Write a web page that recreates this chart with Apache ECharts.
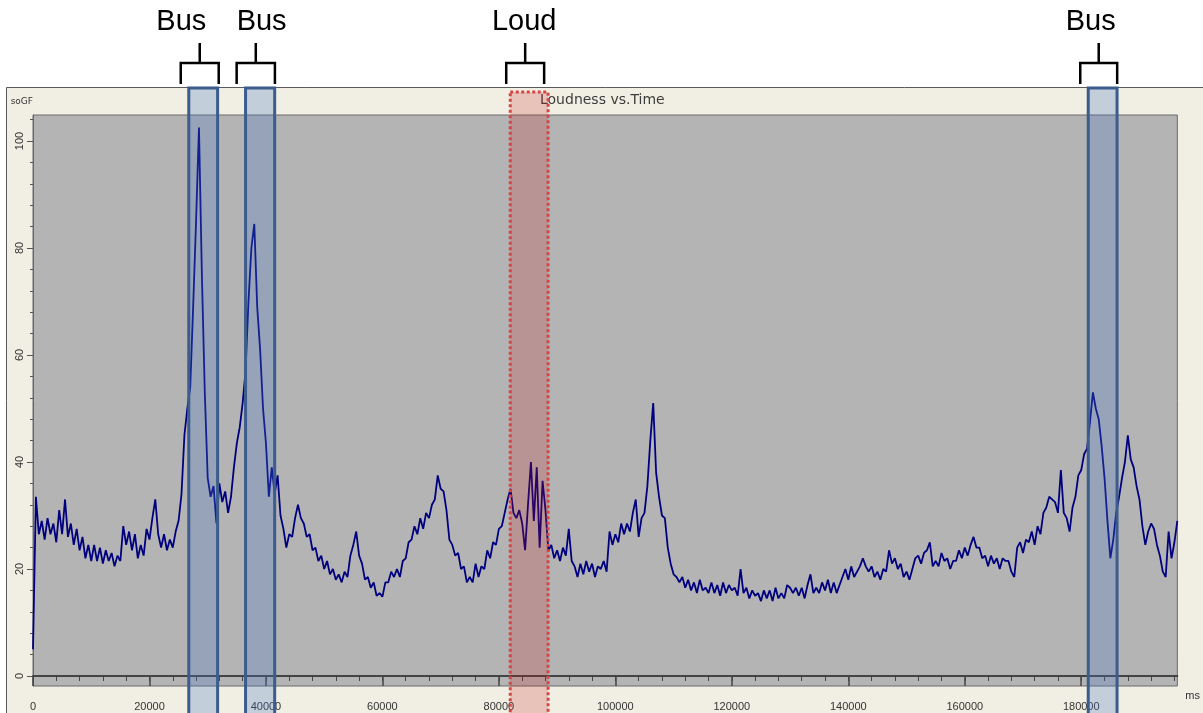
<!DOCTYPE html>
<html>
<head>
<meta charset="utf-8">
<script src="https://cdn.jsdelivr.net/npm/echarts@6/dist/echarts.min.js"></script>
<style>
html,body{margin:0;padding:0;background:#fff;}
#chart{width:1203px;height:713px;}
</style>
</head>
<body>
<div id="chart"></div>
<script>
// ---- data ----
const sampleStepMs = 500;
const loudness = [
  5, 33.5, 26.5, 29, 25.5, 29.5, 26.5, 28.5, 25, 31, 26.5, 33, 26, 28.5, 24.5, 27.5, 23.5, 26, 22, 24.5,
  21.5, 24.5, 21.5, 24, 21, 23.5, 21.5, 23, 20.5, 22.5, 21.5, 28, 24.5, 27, 23.5, 26.5, 22, 24.5, 22.5, 27.5,
  25.5, 29.5, 33, 26.5, 24, 26.5, 23.5, 25.5, 24, 27, 29, 34, 45, 50, 54, 69, 85, 102.5, 75, 53,
  37, 33.5, 35.5, 28.5, 36, 32.5, 34.5, 30.5, 33.5, 39, 43.5, 46.5, 51, 57, 70, 80, 84.5, 69, 61, 50,
  43.5, 33.5, 39, 34, 37.5, 30, 27.5, 24, 26.5, 26, 29.5, 32, 29.5, 28.5, 26, 26.5, 23.5, 24, 21.5, 22.5,
  20, 21.5, 19, 20, 18, 19, 17.5, 19.5, 18.5, 22.5, 24.5, 27, 22.5, 21, 18, 18.5, 16.5, 17.5, 15, 15.5,
  14.8, 17.5, 17.5, 19.5, 18.5, 20, 18.5, 21.5, 22, 25, 25.5, 28, 26.5, 29.5, 27.5, 30.5, 29.5, 32, 33, 37.5,
  35, 34.5, 31, 25.5, 24.5, 22.5, 23, 20, 20.5, 17.5, 18.5, 17.5, 21, 18.5, 20.5, 20, 23.5, 22, 25, 24.5,
  27.5, 28, 30.5, 33, 35, 30.5, 29.5, 31, 28.5, 23.5, 32, 40, 29, 39, 24, 36.5, 31, 23.5, 24.5, 22,
  23.5, 21.5, 24, 22.5, 27.5, 21.5, 20.5, 18.5, 21, 19, 21.5, 19.5, 21, 18.5, 20.5, 20, 21.5, 19.5, 27, 24.5,
  26.5, 25, 28.5, 26.5, 28.5, 27, 30.5, 33, 26, 29.5, 30.5, 35.5, 44, 51, 38, 33.5, 30, 29.5, 24, 21,
  19, 18.5, 17.5, 18.5, 16.5, 18, 16, 17.5, 15.5, 18, 16, 16.5, 15.5, 17.5, 15.5, 17, 15, 17.5, 15.5, 17,
  16, 16.5, 15, 20, 15.5, 16.5, 14.5, 16, 15, 15.5, 14, 16, 14.5, 16, 14, 16.5, 14.5, 15.5, 14.5, 17,
  16.5, 15.5, 16.5, 15, 16.5, 14.5, 17, 19, 15.5, 16.5, 15.5, 17.5, 16, 18, 15.5, 17.5, 15.5, 17, 18.5, 20,
  18, 20.5, 18.5, 19.5, 20.5, 22, 20.5, 19.5, 20.5, 18.5, 19.5, 18, 20, 19.5, 23.5, 21, 22, 20, 21, 18.5,
  19.5, 18, 20, 22, 22.5, 21, 23, 23.5, 25, 20.5, 21.5, 20.5, 23, 21.5, 22, 20, 21.5, 21.5, 23.5, 22,
  24, 22.5, 24.5, 26, 24, 24, 22, 22.5, 20.5, 22.5, 21, 22, 20, 22, 21.5, 21.5, 19.5, 18.5, 24, 25,
  23, 25.5, 25, 27, 24.5, 28, 26.5, 30.5, 31.5, 33.5, 33, 32.5, 30.5, 38.5, 30.5, 29.5, 27, 31.5, 33.5, 37.5,
  38.5, 41.5, 42.5, 47.5, 53, 50, 48, 43, 37, 29, 22, 25.5, 30.5, 33.5, 37, 40, 45, 40.5, 39, 35.5,
  33, 28, 24.5, 27, 28.5, 27.5, 24.5, 22.5, 19.5, 18.5, 27, 22, 25, 29
];

const xMin = 0;
const xMax = 196500;
const yMin = -1.87;
const yMax = 104.86;

const xMajorTicks = [0, 20000, 40000, 60000, 80000, 100000, 120000, 140000, 160000, 180000];
const xMinorTicks = [0, 4000, 8000, 12000, 16000, 20000, 24000, 28000, 32000, 36000, 40000, 44000, 48000,
  52000, 56000, 60000, 64000, 68000, 72000, 76000, 80000, 84000, 88000, 92000, 96000, 100000, 104000,
  108000, 112000, 116000, 120000, 124000, 128000, 132000, 136000, 140000, 144000, 148000, 152000, 156000,
  160000, 164000, 168000, 172000, 176000, 180000, 184000, 188000, 192000, 196000];
const yMajorTicks = [0, 20, 40, 60, 80, 100];
const yMinorTicks = [0, 4, 8, 12, 16, 20, 24, 28, 32, 36, 40, 44, 48, 52, 56, 60, 64, 68, 72, 76, 80, 84, 88, 92, 96, 100, 104];

// annotated events (ms)
const annotationLabels = ['Bus', 'Bus', 'Loud', 'Bus'];
const annotationStartMs = [26750, 36500, 81950, 181200];
const annotationEndMs = [31700, 41500, 88450, 186150];
const bracketStartMs = [25370, 34970, 81260, 179830];
const bracketEndMs = [31890, 41540, 87770, 186170];
const labelCenterMs = [25460, 39260, 84340, 181630];

const titleText = 'Loudness vs.Time';
const yAxisName = 'soGF';
const xAxisName = 'ms';

// ---- chart ----
const lineData = loudness.map((v, i) => [i * sampleStepMs, v]);
const annotationData = annotationStartMs.map((s, i) => [s, annotationEndMs[i], bracketStartMs[i], bracketEndMs[i], labelCenterMs[i]]);

const chart = echarts.init(document.getElementById('chart'), null, {renderer: 'canvas'});

const axisFont = 'Liberation Sans, Arial, sans-serif';

const option = {
  animation: false,
  backgroundColor: '#ffffff',
  title: {
    text: titleText,
    left: 540,
    top: 93,
    padding: 0,
    z: 1,
    textStyle: {fontSize: 14, fontWeight: 'normal', color: '#3c3c3c', fontFamily: 'DejaVu Sans, Verdana, sans-serif'}
  },
  graphic: [{
    type: 'rect',
    z: -10,
    silent: true,
    shape: {x: 6.5, y: 87.5, width: 1210, height: 640},
    style: {fill: '#F1EFE3', stroke: '#5a5a5a', lineWidth: 1}
  }],
  grid: {
    left: 33, top: 115, right: 24, bottom: 27,
    show: true,
    backgroundColor: '#B4B4B4',
    borderColor: '#6a6a6a',
    borderWidth: 1
  },
  xAxis: [{
    type: 'value', min: xMin, max: xMax, position: 'bottom',
    name: xAxisName, nameLocation: 'end', nameGap: 8,
    nameTextStyle: {fontSize: 11, color: '#333', fontFamily: axisFont, verticalAlign: 'top', padding: [14, 0, 0, 0]},
    axisLine: {show: true, lineStyle: {color: '#444', width: 2}},
    axisTick: {show: true, customValues: xMajorTicks, length: 10, lineStyle: {color: '#444', width: 1.5}},
    axisLabel: {show: true, customValues: xMajorTicks, margin: 15, fontSize: 11, color: '#333', fontFamily: axisFont,
      formatter: function (v) { return String(v); }},
    splitLine: {show: false}
  }, {
    type: 'value', min: xMin, max: xMax, position: 'bottom',
    axisLine: {show: false},
    axisTick: {show: true, customValues: xMinorTicks, length: 5, lineStyle: {color: '#444', width: 1}},
    axisLabel: {show: false},
    splitLine: {show: false}
  }],
  yAxis: [{
    type: 'value', min: yMin, max: yMax, position: 'left',
    name: yAxisName, nameLocation: 'end', nameGap: 9,
    nameTextStyle: {fontSize: 9, color: '#333', fontFamily: 'DejaVu Sans, Verdana, sans-serif', align: 'right'},
    axisLine: {show: true, lineStyle: {color: '#666', width: 1}},
    axisTick: {show: true, customValues: yMajorTicks, length: 6, lineStyle: {color: '#555', width: 1}},
    axisLabel: {show: true, customValues: yMajorTicks, rotate: 90, margin: 8, fontSize: 11, color: '#333', fontFamily: axisFont,
      formatter: function (v) { return String(v); }},
    splitLine: {show: false}
  }, {
    type: 'value', min: yMin, max: yMax, position: 'left',
    axisLine: {show: false},
    axisTick: {show: true, customValues: yMinorTicks, length: 3, lineStyle: {color: '#555', width: 1}},
    axisLabel: {show: false},
    splitLine: {show: false}
  }],
  series: [{
    name: 'Loudness',
    type: 'line',
    xAxisIndex: 0, yAxisIndex: 0,
    data: lineData,
    showSymbol: false,
    symbol: 'none',
    sampling: null,
    z: 2,
    lineStyle: {color: '#00007F', width: 1.8},
    emphasis: {disabled: true}
  }, {
    name: 'Events',
    type: 'custom',
    xAxisIndex: 0, yAxisIndex: 0,
    clip: false,
    z: 5,
    silent: true,
    data: annotationData,
    renderItem: function (params, api) {
      const i = params.dataIndex;
      const isLoud = annotationLabels[i] === 'Loud';
      const x0 = api.coord([api.value(0), 0])[0];
      const x1 = api.coord([api.value(1), 0])[0];
      const bx0 = api.coord([api.value(2), 0])[0];
      const bx1 = api.coord([api.value(3), 0])[0];
      const lx = api.coord([api.value(4), 0])[0];
      const plotTop = api.coord([0, yMax])[1];
      const rectTop = plotTop - (isLoud ? 23 : 27);
      const bottom = api.getHeight() + 6;
      const bm = (bx0 + bx1) / 2;
      return {
        type: 'group',
        children: [{
          type: 'rect',
          shape: {x: x0, y: rectTop, width: x1 - x0, height: bottom - rectTop},
          style: isLoud
            ? {fill: 'rgba(200,20,20,0.2)', stroke: '#D64545', lineWidth: 3, lineDash: [3, 2.5]}
            : {fill: 'rgba(69,120,199,0.27)', stroke: '#3B5C8C', lineWidth: 3}
        }, {
          type: 'polyline',
          shape: {points: [[bx0, plotTop - 31], [bx0, plotTop - 52], [bx1, plotTop - 52], [bx1, plotTop - 31]]},
          style: {stroke: '#000', lineWidth: 2.5, fill: null}
        }, {
          type: 'line',
          shape: {x1: bm, y1: plotTop - 52, x2: bm, y2: plotTop - 72},
          style: {stroke: '#000', lineWidth: 2.5}
        }, {
          type: 'text',
          x: lx, y: plotTop - 93,
          style: {
            text: annotationLabels[i],
            font: '29px "Liberation Sans", Arial, sans-serif',
            fill: '#000',
            align: 'center',
            verticalAlign: 'middle'
          }
        }]
      };
    }
  }]
};

chart.setOption(option);
</script>
</body>
</html>
